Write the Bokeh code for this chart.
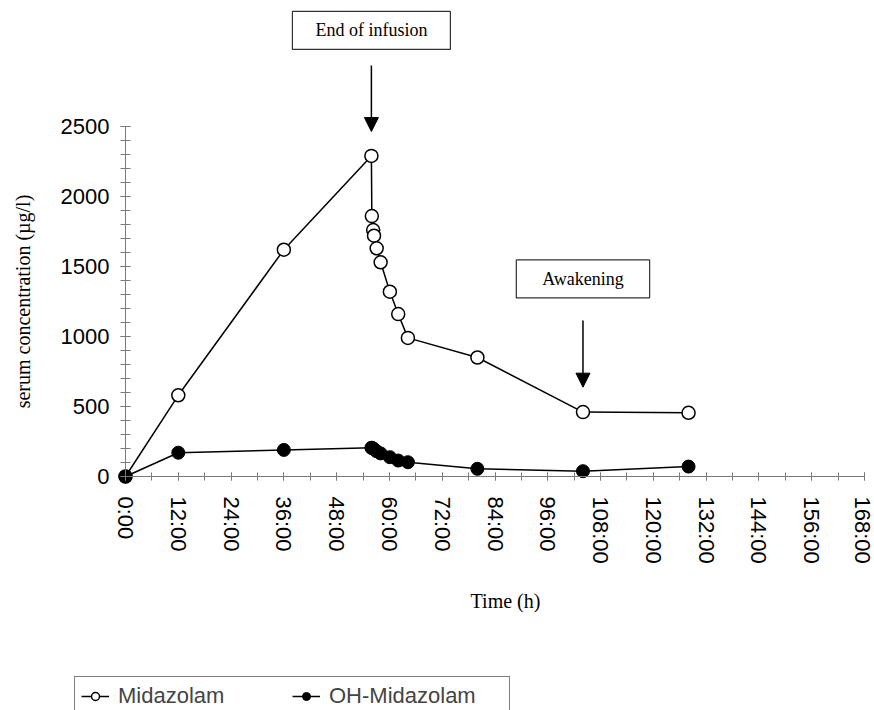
import math
from bokeh.plotting import figure
from bokeh.models import FixedTicker, Label, Arrow, NormalHead, Legend, LegendItem, Range1d
from bokeh.embed import file_html
from bokeh.resources import INLINE

# ---- data ----
time_h = [0, 12, 36, 55.9, 56.0, 56.3, 56.5, 57.1, 58.0, 60.1, 62.0, 64.2, 80.0, 104.0, 128.0]
midazolam = [0, 580, 1620, 2290, 1860, 1760, 1720, 1630, 1530, 1320, 1160, 990, 850, 460, 455]
oh_midazolam = [0, 170, 190, 205, 205, 200, 195, 180, 165, 138, 114, 102, 55, 38, 71]

x_ticks = list(range(0, 169, 12))
x_tick_labels = [f"{t}:00" for t in x_ticks]
x_minor_ticks = list(range(0, 169, 6))
y_ticks = [0, 500, 1000, 1500, 2000, 2500]
y_tick_labels = [str(v) for v in y_ticks]
y_minor_ticks = list(range(0, 2501, 100))

end_infusion_time = 55.9
awakening_time = 104.0
end_label_y = 3186
end_arrow = (2936, 2464)
awake_label_y = 1411
awake_arrow = (1114, 638)

# ---- geometry (pixels of the page) ----
W, H = 874, 710
px_x0, px_x168 = 125, 864      # page x of 0 h and 168 h
px_y0, px_y2500 = 476, 126     # page y of 0 and 2500
sx = (px_x168 - px_x0) / 168.0
sy = (px_y0 - px_y2500) / 2500.0
x_range = Range1d(-px_x0 / sx, 168 + (W - px_x168) / sx)
y_range = Range1d(-(H - px_y0) / sy, 2500 + px_y2500 / sy)

def data_x(px):
    return (px - px_x0) / sx

def data_y(py):
    return (px_y0 - py) / sy

p = figure(width=W, height=H, output_backend="svg", toolbar_location=None,
           x_range=x_range, y_range=y_range, min_border=0)
p.outline_line_color = None
p.xgrid.visible = False
p.ygrid.visible = False

axis_col = "#7a7a7a"
for ax in (p.xaxis[0], p.yaxis[0]):
    ax.fixed_location = 0
    ax.axis_line_color = axis_col
    ax.major_tick_line_color = axis_col
    ax.minor_tick_line_color = axis_col
    ax.major_label_text_font = "Liberation Sans"
    ax.major_label_text_font_size = "22px"
    ax.major_label_text_color = "black"

xa = p.xaxis[0]
xa.ticker = FixedTicker(ticks=x_ticks, minor_ticks=x_minor_ticks)
xa.major_label_overrides = dict(zip(x_ticks, x_tick_labels))
xa.major_label_orientation = "vertical"
xa.bounds = (0, 168)
xa.major_tick_in = 4
xa.major_tick_out = 4
xa.minor_tick_in = 4
xa.minor_tick_out = 4
xa.major_label_standoff = 16

ya = p.yaxis[0]
ya.ticker = FixedTicker(ticks=y_ticks, minor_ticks=y_minor_ticks)
ya.major_label_overrides = dict(zip(y_ticks, y_tick_labels))
ya.bounds = (0, 2500)
ya.major_tick_in = 5
ya.major_tick_out = 5
ya.minor_tick_in = 5
ya.minor_tick_out = 5
ya.major_label_standoff = 11

# axis titles
p.add_layout(Label(x=data_x(505), y=data_y(600), text="Time (h)",
                   text_font="Liberation Serif", text_font_size="20px", text_color="black",
                   text_align="center", text_baseline="middle"))
p.add_layout(Label(x=data_x(22), y=data_y(301), text="serum concentration (µg/l)",
                   text_font="Liberation Serif", text_font_size="20px", text_color="black",
                   text_align="center", text_baseline="middle", angle=math.pi / 2))

# ---- series ----
l1 = p.line(time_h, midazolam, line_color="black", line_width=1.5)
s1 = p.scatter(time_h, midazolam, marker="circle", size=13,
               fill_color="white", line_color="black", line_width=1.5)
l2 = p.line(time_h, oh_midazolam, line_color="black", line_width=1.5)
s2 = p.scatter(time_h, oh_midazolam, marker="circle", size=13,
               fill_color="black", line_color="black", line_width=1)

# ---- annotations ----
for t, ly, (ys, ye), txt, pad in [
    (end_infusion_time, end_label_y, end_arrow, "End of infusion", (23, 23, 9, 9)),
    (awakening_time, awake_label_y, awake_arrow, "Awakening", (26, 26, 9, 9)),
]:
    p.add_layout(Label(x=t, y=ly, text=txt, text_font="Liberation Serif",
                       text_font_size="18px", text_color="black",
                       text_align="center", text_baseline="middle",
                       border_line_color="#333333", border_line_width=1.2,
                       background_fill_color="white", padding=pad))
    p.add_layout(Arrow(end=NormalHead(size=14, fill_color="black", line_color="black"),
                       x_start=t, y_start=ys, x_end=t, y_end=ye,
                       line_color="black", line_width=1.5))

legend = Legend(items=[LegendItem(label="Midazolam", renderers=[l1, s1]),
                       LegendItem(label="OH-Midazolam", renderers=[l2, s2])],
                orientation="horizontal", location=(74, -6), padding=6, spacing=0,
                glyph_width=28, label_standoff=9, label_width=174, margin=0,
                label_text_font="Liberation Sans", label_text_font_size="22px",
                border_line_color="black", border_line_width=1.5,
                background_fill_color="white")
p.add_layout(legend)

open("out.html", "w").write(file_html(p, INLINE))
